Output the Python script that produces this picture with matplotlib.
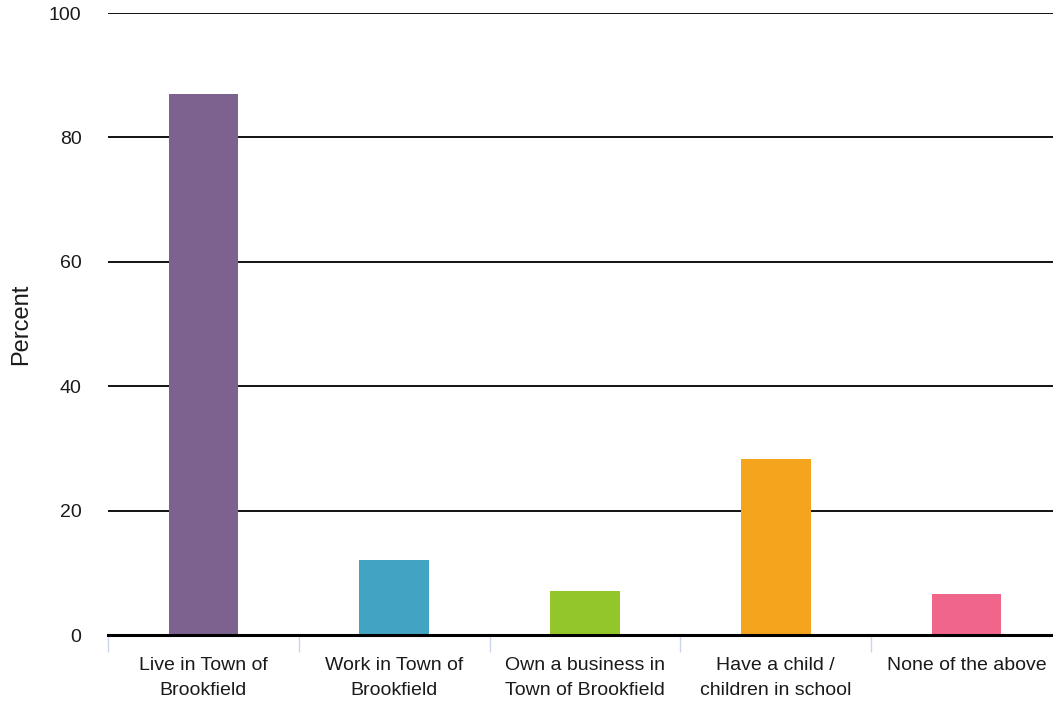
import matplotlib
matplotlib.use("Agg")
import matplotlib.pyplot as plt
import numpy as np

categories = ["Live in Town of\nBrookfield", "Work in Town of\nBrookfield",
              "Own a business in\nTown of Brookfield", "Have a child /\nchildren in school",
              "None of the above"]
percent = [86.9, 12.1, 7.1, 28.3, 6.6]
colors = ["#7D6290", "#43A3C3", "#93C62A", "#F5A51D", "#F0668A"]
yticks = [0, 20, 40, 60, 80, 100]

plt.rcParams['font.family'] = ['Liberation Sans', 'DejaVu Sans']

W, H = 1053, 702
fig = plt.figure(figsize=(W / 100, H / 100), dpi=100)
# plot area runs slightly past the right edge of the canvas
left, right, top, bottom = 108, 1062, 13, 635
ax = fig.add_axes([left / W, 1 - bottom / H, (right - left) / W, (bottom - top) / H])

x = np.arange(len(categories))
ax.bar(x, percent, width=0.365, color=colors, zorder=3)

ax.set_xlim(-0.5, len(categories) - 0.5)
ax.set_ylim(0, 100)
ax.set_yticks(yticks)
ax.yaxis.grid(True, color="black", linewidth=1.3, zorder=1)
ax.set_axisbelow(True)
ax.tick_params(axis="y", length=0, pad=19, labelsize=14, labelcolor="#1a1a1a")

ax.set_xticks(x)
ax.set_xticklabels(categories, fontsize=14, color="#1a1a1a", linespacing=1.62)
ax.tick_params(axis="x", length=0, pad=16)
# category separator ticks below the baseline
ax.set_xticks(np.arange(-0.5, len(categories)), minor=True)
ax.tick_params(axis="x", which="minor", length=12, width=1, color="#ccd6eb", direction="out")

for s in ["top", "right", "left"]:
    ax.spines[s].set_visible(False)
ax.spines["bottom"].set_linewidth(2.2)
ax.spines["bottom"].set_color("black")
ax.spines["bottom"].set_zorder(4)

fig.text(21 / W, 1 - 324 / H, "Percent", rotation=90, fontsize=17,
         ha="center", va="center", color="#1a1a1a")

fig.savefig("out.png", dpi=100)
